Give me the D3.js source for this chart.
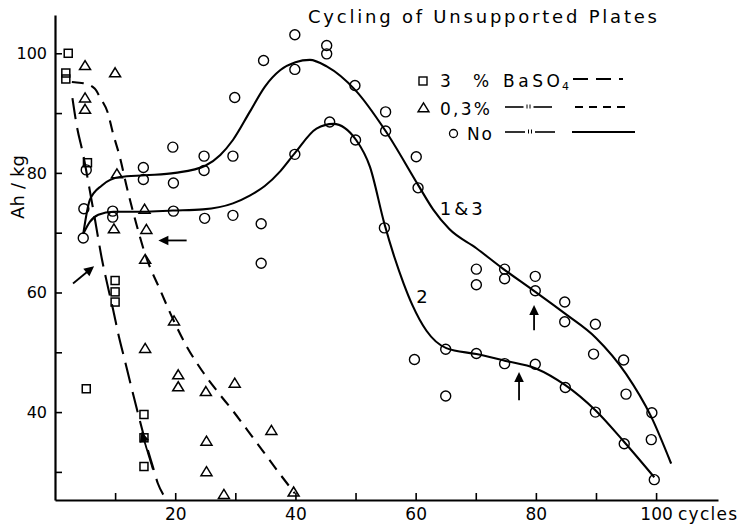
<!DOCTYPE html>
<html><head><meta charset="utf-8">
<script src="https://cdn.jsdelivr.net/npm/d3@7"></script>
<style>
body{margin:0;background:#fff}
svg{display:block;background:#fff}
text{font-family:"DejaVu Sans",sans-serif;fill:#000}
</style>
</head><body>
<svg id="c" width="744" height="531"></svg>
<script>
// ---------- data ----------
const xTicks = [10,20,30,40,50,60,70,80,90,100];
const xLabels = [20,40,60,80,100];
const yTicks = [30,40,50,60,70,80,90,100];
const yLabels = [40,60,80,100];

// 3 % BaSO4 (squares)
const baso3 = [[2.2,100],[1.8,96.7],[1.8,95.7],[5.4,81.7],[10,62],[10,60.1],[10,58.4],[5.2,43.9],[14.8,39.6],[14.8,35.7],[14.8,30.9]];
// 0,3 % BaSO4 (triangles)
const baso03 = [[5,97.9],[10,96.7],[5,92.5],[5,90.6],[10.3,79.8],[14.9,73.9],[9.8,70.6],[15.2,70.5],[15,65.5],[15,50.6],[19.8,55.2],[20.5,46.2],[20.5,44.2],[25.1,43.4],[29.9,44.8],[25.2,35.1],[25.2,30],[28.1,26.2],[36,36.9],[39.7,26.6]];
// No additive (circles)
const noAdd = [[4.7,69.1],[4.8,74],[5.2,80.5],[9.6,73.6],[9.6,72.6],[14.7,80.9],[14.7,78.9],[19.6,84.3],[19.7,78.3],[19.7,73.6],[24.8,82.8],[24.8,80.4],[24.9,72.4],[29.6,82.8],[29.9,92.6],[29.6,72.9],[34.7,98.8],[34.3,71.5],[34.3,64.9],[39.9,103.1],[39.9,97.3],[39.9,83.1],[45.2,101.3],[45.2,99.9],[45.7,88.5],[49.9,94.6],[50,85.5],[55,90.2],[55,87],[54.8,70.8],[60.1,82.7],[60.4,77.5],[59.8,48.8],[65,50.5],[65,42.7],[70.1,63.9],[70.1,61.3],[70.1,49.8],[74.8,63.9],[74.8,62.3],[74.8,48.1],[79.9,62.7],[79.9,60.3],[79.9,48],[84.8,58.4],[84.8,55.1],[84.9,44.1],[89.9,54.7],[89.6,49.7],[89.9,40],[94.6,48.7],[95,43],[94.7,34.7],[99.3,39.9],[99.2,35.4],[99.7,28.7]];

// fitted curves
const curve13 = [[4.7,69.8],[5.8,75.5],[7.8,77.9],[10.8,79.3],[15,79.6],[20,80],[25,81.2],[27.5,83],[29.6,85.5],[32.4,90.2],[34.9,94.4],[37.5,97.2],[40,98.5],[42.4,98.9],[45.2,97.8],[50,93.8],[55,87],[60.4,78],[62.9,73.9],[65.6,70.6],[70.1,67.4],[74.5,64],[79.5,60.4],[84.8,56.5],[90,52.4],[95,46.4],[99.2,39.2],[102.5,31.4]];
const curve2 = [[4.7,69.8],[5.8,71.8],[7.2,73],[9.7,73.5],[14.6,73.5],[19.6,73.7],[24.6,73.9],[29.6,74.9],[32.4,76.2],[34.9,77.8],[37.5,80.3],[39.9,83.3],[43.5,87.4],[46.3,88.2],[50.1,85.5],[52.4,81],[54.8,71.5],[56.5,65.8],[58,61.5],[59.5,57.8],[61.8,53.6],[65.1,50.7],[70.1,49.7],[74.8,48.6],[80,47.3],[84.9,44.5],[89.9,40.3],[94.7,35],[99.7,29.1]];
const curveBaso3 = [[2.9,92.5],[3.6,88],[4.7,83],[5.8,77],[6.6,72.5],[7.8,65.6],[8.9,60.5],[9.7,57],[10.5,53.2],[11.6,48.7],[12.7,44.2],[13.8,39.8],[15.2,34.5],[16.3,30.8],[17.1,28.1],[18,26.2]];
const curveBaso03 = [[2.8,95.2],[3.6,95.1],[4.7,95],[6.6,94.1],[7.5,92.6],[8.8,90],[9.6,86.8],[10.8,82.6],[11.9,77.8],[13.6,71.2],[15,66.4],[17.5,60.4],[19.7,55.4],[21.9,51],[24.4,47],[26.9,43.6],[29.6,40.2],[32,37],[34.5,33.6],[37,30.2],[39.9,26.4]];

// arrows [tailX, tailY, tipX, tipY] in data units
const arrows = [[21.9,68.7,17.2,68.7],[3.0,61.5,6.5,64.4],[16.3,30.4,14.4,36.7],[79.7,53.7,79.7,57.9],[77.2,42.0,77.2,46.7]];
// curve labels [text, x, y]
const curveLabels = [["1 & 3",64,72.9],["2",60.1,58.2]];

// ---------- drawing ----------
const svg = d3.select("#c");
const x = d3.scaleLinear().domain([0,110.3]).range([55,718]);
const y = d3.scaleLinear().domain([25.3,106.4]).range([500,15]);

// axes
const gy = svg.append("g").attr("transform","translate(55,0)")
  .call(d3.axisLeft(y).tickValues(yTicks).tickSize(-7).tickSizeOuter(0).tickPadding(8)
    .tickFormat(d => yLabels.includes(d) ? d : ""));
const gx = svg.append("g").attr("transform","translate(0,500)")
  .call(d3.axisBottom(x).tickValues(xTicks).tickSize(-7).tickSizeOuter(0).tickPadding(8)
    .tickFormat(d => xLabels.includes(d) ? d : ""));
[gy,gx].forEach(g=>{
  g.attr("font-family","DejaVu Sans, sans-serif").attr("font-size",16);
  g.select(".domain").attr("stroke","#000").attr("stroke-width",2.2);
  g.selectAll(".tick line").attr("stroke","#000").attr("stroke-width",1.6);
  g.selectAll(".tick text").attr("fill","#000");
});
gx.selectAll(".tick text").attr("font-size",17);

svg.append("text").attr("x",678).attr("y",520).attr("font-size",17)
  .attr("textLength",59).attr("lengthAdjust","spacing").text("cycles");
svg.append("text").attr("transform","translate(24,187) rotate(-90)").attr("text-anchor","middle")
  .attr("font-size",18).attr("textLength",64).attr("lengthAdjust","spacing").text("Ah / kg");
svg.append("text").attr("x",308).attr("y",23).attr("font-size",18)
  .attr("textLength",349).attr("lengthAdjust","spacing").text("Cycling of Unsupported Plates");

// curves
const line = d3.line().x(d=>x(d[0])).y(d=>y(d[1])).curve(d3.curveMonotoneX);
const drawCurve = (data, dash) => svg.append("path").datum(data).attr("d",line)
  .attr("fill","none").attr("stroke","#000").attr("stroke-width",2.1)
  .attr("stroke-dasharray",dash).attr("stroke-linecap","butt");
drawCurve(curve13,null);
drawCurve(curve2,null);
drawCurve(curveBaso3,"21,9");
drawCurve(curveBaso03,"12,8");

// markers
const sq = 8, triW = 11, triH = 9;
const triPath = (cx,cy,s=1)=>`M${cx},${cy-triH*0.58*s}L${cx+triW/2*s},${cy+triH*0.42*s}L${cx-triW/2*s},${cy+triH*0.42*s}Z`;
svg.append("g").selectAll("rect").data(baso3).join("rect")
  .attr("x",d=>x(d[0])-sq/2).attr("y",d=>y(d[1])-sq/2).attr("width",sq).attr("height",sq)
  .attr("fill","none").attr("stroke","#000").attr("stroke-width",1.5);
svg.append("g").selectAll("path").data(baso03).join("path")
  .attr("d",d=>triPath(x(d[0]),y(d[1])))
  .attr("fill","none").attr("stroke","#000").attr("stroke-width",1.5).attr("stroke-linejoin","miter");
svg.append("g").selectAll("circle").data(noAdd).join("circle")
  .attr("cx",d=>x(d[0])).attr("cy",d=>y(d[1])).attr("r",5)
  .attr("fill","none").attr("stroke","#000").attr("stroke-width",1.4);

// arrows
arrows.forEach(a=>{
  const x0=x(a[0]), y0=y(a[1]), x1=x(a[2]), y1=y(a[3]);
  const dx=x1-x0, dy=y1-y0, L=Math.hypot(dx,dy), ux=dx/L, uy=dy/L, nx=-uy, ny=ux;
  const hl=10, hw=4.8, bx=x1-ux*hl, by=y1-uy*hl;
  svg.append("line").attr("x1",x0).attr("y1",y0).attr("x2",bx+ux*2).attr("y2",by+uy*2)
    .attr("stroke","#000").attr("stroke-width",1.8);
  svg.append("path").attr("d",`M${x1},${y1}L${bx+nx*hw},${by+ny*hw}L${bx-nx*hw},${by-ny*hw}Z`).attr("fill","#000");
});

// curve labels
curveLabels.forEach(l=>{
  svg.append("text").attr("x",x(l[1])).attr("y",y(l[2])).attr("font-size",18)
    .attr("textLength", l[0].length>1 ? 43 : null).attr("lengthAdjust","spacing").text(l[0]);
});

// legend
const lg = svg.append("g").attr("font-size",17);
lg.append("rect").attr("x",419).attr("y",77).attr("width",8).attr("height",8)
  .attr("fill","none").attr("stroke","#000").attr("stroke-width",1.4);
lg.append("text").attr("x",440).attr("y",87).text("3");
lg.append("text").attr("x",473).attr("y",87).text("%");
const bt = lg.append("text").attr("x",503).attr("y",87);
bt.append("tspan").attr("textLength",57).attr("lengthAdjust","spacing").text("BaSO");
bt.append("tspan").attr("x",562).attr("dy",3).attr("font-size",11).text("4");
lg.append("path").attr("d",triPath(423.5,108)).attr("fill","none").attr("stroke","#000").attr("stroke-width",1.4);
lg.append("text").attr("x",440).attr("y",115).attr("textLength",50).attr("lengthAdjust","spacing").text("0,3%");
lg.append("circle").attr("cx",453.5).attr("cy",133.5).attr("r",4).attr("fill","none").attr("stroke","#000").attr("stroke-width",1.3);
lg.append("text").attr("x",467).attr("y",140).attr("textLength",25).attr("lengthAdjust","spacing").text("No");
// ditto marks
[[107,505,552],[132,505,555]].forEach(r=>{
  const [yy,a,b]=r, m=(a+b)/2;
  lg.append("line").attr("x1",a).attr("x2",m-5).attr("y1",yy).attr("y2",yy).attr("stroke","#000").attr("stroke-width",1.6);
  lg.append("line").attr("x1",m+5).attr("x2",b).attr("y1",yy).attr("y2",yy).attr("stroke","#000").attr("stroke-width",1.6);
  [-1.5,1.5].forEach(o=>lg.append("line").attr("x1",m+o).attr("x2",m+o).attr("y1",yy-2.5).attr("y2",yy+1.5).attr("stroke","#000").attr("stroke-width",1));
});
// legend line samples
lg.append("line").attr("x1",573).attr("x2",623).attr("y1",79).attr("y2",79).attr("stroke","#000").attr("stroke-width",2).attr("stroke-dasharray","15,8");
lg.append("line").attr("x1",575).attr("x2",627).attr("y1",107).attr("y2",107).attr("stroke","#000").attr("stroke-width",2).attr("stroke-dasharray","8,6");
lg.append("line").attr("x1",572).attr("x2",635).attr("y1",132).attr("y2",132).attr("stroke","#000").attr("stroke-width",2);
</script>
</body></html>
